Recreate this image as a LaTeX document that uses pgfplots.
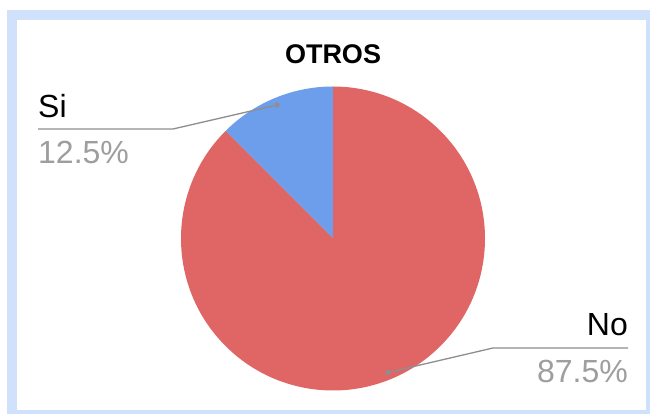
\documentclass[border=0pt]{standalone}
\usepackage{pgfplots}
\pgfplotsset{compat=1.18}
\usepackage{pgfplotstable}
\usepackage{fontspec}
\setmainfont{Liberation Sans}
\definecolor{siblue}{HTML}{6D9EEB}
\definecolor{nored}{HTML}{E06666}
\definecolor{frameblue}{HTML}{CFE1FB}
\definecolor{pctgray}{HTML}{9E9E9E}
\definecolor{linegray}{HTML}{8E8E8E}
\pgfplotstableread{
label value
Si 12.5
No 87.5
}\piedata
\pgfplotstablegetelem{0}{value}\of\piedata \let\vSi\pgfplotsretval
\pgfplotstablegetelem{1}{value}\of\piedata \let\vNo\pgfplotsretval
\pgfmathsetmacro\aMid{90+3.6*\vSi}
\pgfmathsetmacro\aEnd{\aMid+3.6*\vNo}
\begin{document}
\begin{tikzpicture}
\begin{axis}[x=1pt,y=1pt,xmin=0,xmax=650,ymin=0,ymax=414,hide axis,clip=false,scale only axis]
\fill[white] (axis cs:0,0) rectangle (axis cs:650,414);
\fill[frameblue] (axis cs:7,0) rectangle (axis cs:650,404);
\fill[white] (axis cs:17,4) rectangle (axis cs:645.5,393.5);
% slices
\fill[siblue] (axis cs:333,175.5) -- ++(90:152pt) arc[start angle=90,end angle=\aMid,radius=152pt] -- cycle;
\fill[nored] (axis cs:333,175.5) -- ++(\aMid:152pt) arc[start angle=\aMid,end angle=\aEnd,radius=152pt] -- cycle;
% title
\node[anchor=base,font=\fontsize{27}{32}\selectfont\bfseries] at (axis cs:333,350) {OTROS};
% Si label
\draw[linegray,line width=1.3pt] (axis cs:38,285) -- (axis cs:173,285) -- (axis cs:277,309);
\fill[linegray] (axis cs:277,309) circle[radius=2.6pt];
\node[anchor=base west,inner sep=0pt,font=\fontsize{32}{38}\selectfont] at (axis cs:38,296) {Si};
\node[anchor=base west,inner sep=0pt,text=pctgray,font=\fontsize{32}{38}\selectfont] at (axis cs:38,250) {12.5\%};
% No label
\draw[linegray,line width=1.3pt] (axis cs:628,66) -- (axis cs:493,66) -- (axis cs:388,41.5);
\fill[linegray] (axis cs:388,41.5) circle[radius=2.6pt];
\node[anchor=base east,inner sep=0pt,font=\fontsize{32}{38}\selectfont] at (axis cs:628,78) {No};
\node[anchor=base east,inner sep=0pt,text=pctgray,font=\fontsize{32}{38}\selectfont] at (axis cs:628,31) {87.5\%};
\end{axis}
\end{tikzpicture}
\end{document}
